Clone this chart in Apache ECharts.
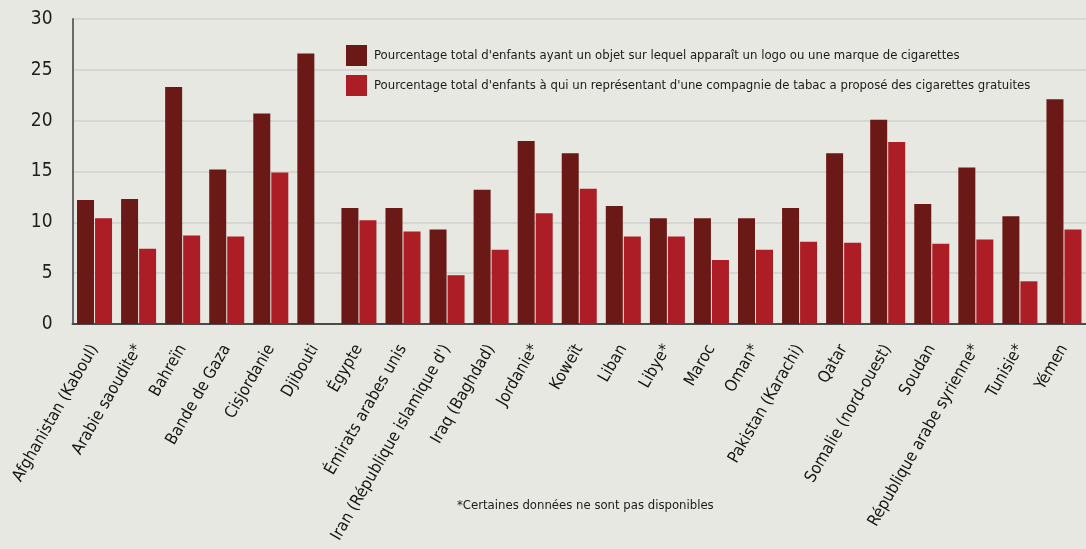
<!DOCTYPE html>
<html><head><meta charset="utf-8">
<script src="https://cdn.jsdelivr.net/npm/echarts@6/dist/echarts.min.js"></script>
<style>html,body{margin:0;padding:0;background:#e8e8e2;}#c{width:1086px;height:549px;}</style>
</head><body><div id="c"></div>
<script>
const categories = ["Afghanistan (Kaboul)","Arabie saoudite*","Bahreïn","Bande de Gaza","Cisjordanie","Djibouti","Égypte","Émirats arabes unis","Iran (République islamique d')","Iraq (Baghdad)","Jordanie*","Koweït","Liban","Libye*","Maroc","Oman*","Pakistan (Karachi)","Qatar","Somalie (nord-ouest)","Soudan","République arabe syrienne*","Tunisie*","Yémen"];
const seriesNames = ["Pourcentage total d'enfants ayant un objet sur lequel apparaît un logo ou une marque de cigarettes","Pourcentage total d'enfants à qui un représentant d'une compagnie de tabac a proposé des cigarettes gratuites"];
const logoValues = [12.2,12.3,23.3,15.2,20.7,26.6,11.4,11.4,9.3,13.2,18.0,16.8,11.6,10.4,10.4,10.4,11.4,16.8,20.1,11.8,15.4,10.6,22.1];
const freeValues = [10.4,7.4,8.7,8.6,14.9,null,10.2,9.1,4.8,7.3,10.9,13.3,8.6,8.6,6.3,7.3,8.1,8.0,17.9,7.9,8.3,4.2,9.3];
const yTicks = [0,5,10,15,20,25,30];
const footnote = "*Certaines données ne sont pas disponibles";

const FONT = "'Liberation Sans Narrow','DejaVu Sans Condensed','Roboto',sans-serif";
const chart = echarts.init(document.getElementById('c'), null, {renderer:'canvas'});
chart.setOption({
  backgroundColor:'#e8e8e2',
  animation:false,
  grid:{left:72.5,right:-12,top:19,bottom:225,containLabel:false},
  legend:{
    left:346, top:45, padding:0, orient:'vertical', itemWidth:21, itemHeight:21, itemGap:9,
    icon:'rect',
    textStyle:{fontFamily:FONT, fontSize:13, color:'#1a1a1a', padding:[0,0,0,2]},
    data:seriesNames
  },
  graphic:[{type:'text', left:457, top:499, style:{text:footnote, font:"13px "+FONT, fill:'#1a1a1a'}}],
  xAxis:{
    type:'category', data:categories,
    axisLine:{show:true, lineStyle:{color:'#4a4a4a', width:2}},
    axisTick:{show:false},
    axisLabel:{interval:0, rotate:60, fontFamily:FONT, fontSize:16.5, color:'#141414', margin:22}
  },
  yAxis:{
    type:'value', min:0, max:30, interval:5,
    axisLine:{show:true, lineStyle:{color:'#6a6a6a', width:2}},
    axisTick:{show:false},
    axisLabel:{fontFamily:FONT, fontSize:19, color:'#1e1e1e', margin:20,
      formatter:v=>yTicks.includes(v)?String(v):''},
    splitLine:{lineStyle:{color:'#d6d6d2', width:2}}
  },
  series:[
    {name:seriesNames[0], type:'bar', data:logoValues, barWidth:17, barGap:'6%', itemStyle:{color:'#6a1917'}},
    {name:seriesNames[1], type:'bar', data:freeValues, barWidth:17, barGap:'6%', itemStyle:{color:'#ac1d25'}}
  ]
});
</script></body></html>
